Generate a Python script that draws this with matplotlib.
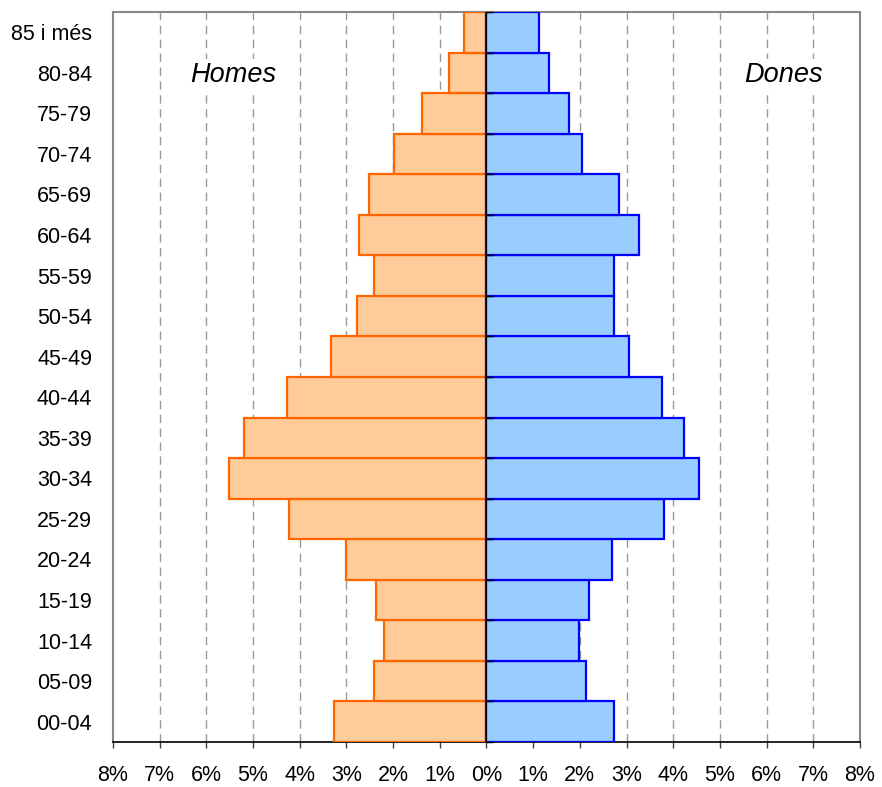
import numpy as np
import matplotlib.pyplot as plt
from matplotlib.ticker import FuncFormatter

plt.rcParams['font.family'] = ['Liberation Sans', 'DejaVu Sans']

# age groups, bottom to top
groups = ['00-04', '05-09', '10-14', '15-19', '20-24', '25-29', '30-34', '35-39',
          '40-44', '45-49', '50-54', '55-59', '60-64', '65-69', '70-74', '75-79',
          '80-84', '85 i més']
# percentage of total population
homes = [3.26, 2.41, 2.19, 2.36, 3.00, 4.23, 5.52, 5.20,
         4.28, 3.32, 2.78, 2.41, 2.73, 2.51, 1.98, 1.39, 0.81, 0.48]
dones = [2.74, 2.14, 1.98, 2.20, 2.68, 3.80, 4.55, 4.23,
         3.75, 3.05, 2.73, 2.73, 3.27, 2.84, 2.04, 1.77, 1.34, 1.13]

y = np.arange(len(groups))

fig = plt.figure(figsize=(8.82, 7.87), dpi=100)
ax = fig.add_axes([0.1281, 0.0572, 0.8469, 0.9276])

ax.barh(y, -np.array(homes), height=1.0, color='#FFCC99', edgecolor='#FF6600',
        linewidth=1.6, zorder=3)
ax.barh(y, dones, height=1.0, color='#99CCFF', edgecolor='#0000FF',
        linewidth=1.6, zorder=3)

ax.set_xlim(-8, 8)
ax.set_ylim(-0.5, len(groups) - 0.5)

# x axis
ax.set_xticks(np.arange(-8, 9, 1))
ax.xaxis.set_major_formatter(FuncFormatter(lambda v, p: '%d%%' % abs(round(v))))
ax.tick_params(axis='x', direction='out', length=4.5, width=1, color='#404040',
               labelsize=15.5, pad=12)

# category labels on the left, no ticks there
ax.set_yticks(y)
ax.set_yticklabels(groups)
ax.tick_params(axis='y', length=0, labelsize=15.5, pad=15)

# vertical grid
for v in range(-7, 8):
    if v != 0:
        ax.axvline(v, color='#999999', linestyle=(0, (6, 4)), linewidth=1, zorder=1)

for side in ['top', 'left', 'right']:
    ax.spines[side].set_color('#888888')
    ax.spines[side].set_linewidth(1.5)
ax.spines['bottom'].set_color('black')
ax.spines['bottom'].set_linewidth(1.2)

# center axis with ticks at the group boundaries
sec = ax.secondary_yaxis(0.5)
sec.set_yticks(np.arange(len(groups) + 1) - 0.5)
sec.set_yticklabels([])
sec.tick_params(axis='y', direction='out', length=5, width=1, color='black')
sec.spines['left'].set_color('#000080')
sec.spines['left'].set_linewidth(1.6)
sec.set_zorder(4)

ax.text(0.161, 0.914, 'Homes', transform=ax.transAxes, fontsize=19.5, style='italic',
        ha='center', va='center', zorder=2,
        bbox=dict(facecolor='white', edgecolor='none', pad=2))
ax.text(0.897, 0.914, 'Dones', transform=ax.transAxes, fontsize=19.5, style='italic',
        ha='center', va='center', zorder=2,
        bbox=dict(facecolor='white', edgecolor='none', pad=2))

fig.savefig('out.png', dpi=100)
